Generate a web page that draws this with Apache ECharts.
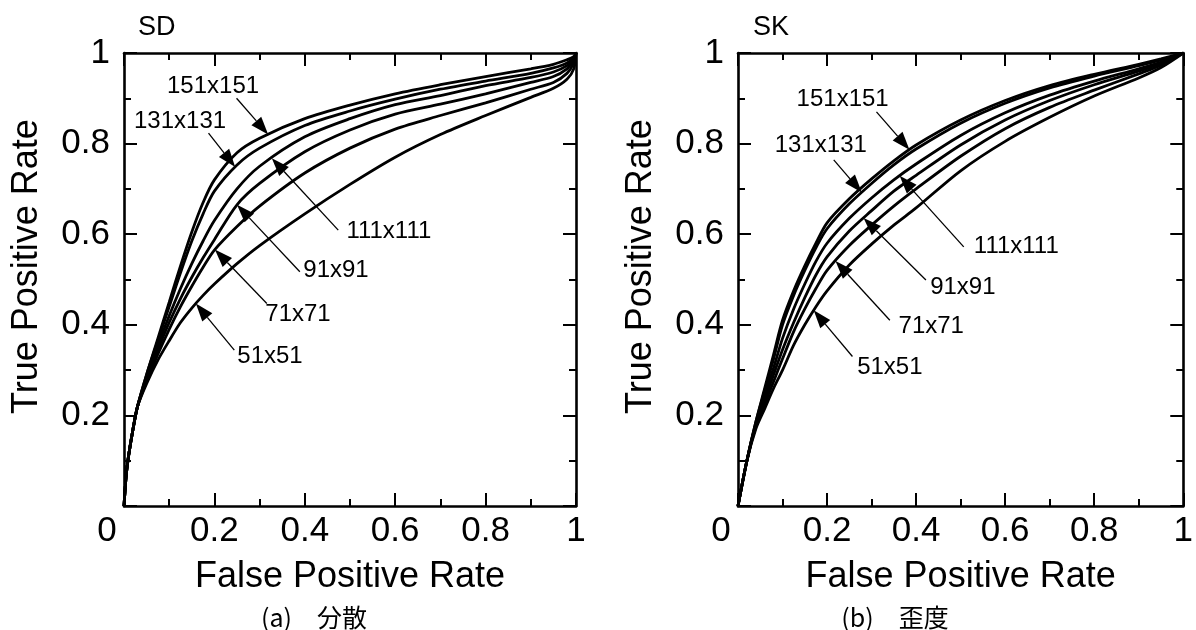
<!DOCTYPE html>
<html><head><meta charset="utf-8">
<script src="https://cdn.jsdelivr.net/npm/echarts@6/dist/echarts.min.js"></script>
<style>html,body{margin:0;padding:0;background:#fff}#c{width:1196px;height:630px}</style>
</head><body><div id="c"></div>
<script>
// ---- data ----
const sizeLabels = ['51x51', '71x71', '91x91', '111x111', '131x131', '151x151'];
const panelTitles = ['SD', 'SK'];
const captions = ['(a)\u3000分散', '(b)\u3000歪度'];

// (a) SD : false positive rate grid and true positive rates
const fprSD = [0, .005, .01, .02, .03, .05, .075, .1, .125, .15, .175, .2, .25, .3, .4, .5, .6, .7, .8, .9, .95, .98, .995, 1];
const sd51  = [0, .07, .11, .17, .22, .27, .322, .365, .405, .437, .465, .49, .535, .575, .645, .71, .77, .82, .862, .902, .922, .942, .965, 1];
const sd71  = [0, .07, .11, .17, .22, .275, .335, .39, .44, .485, .527, .565, .617, .662, .735, .79, .832, .862, .89, .92, .935, .955, .978, 1];
const sd91  = [0, .07, .11, .17, .22, .28, .345, .405, .458, .505, .548, .588, .665, .712, .782, .83, .865, .887, .91, .935, .948, .965, .984, 1];
const sd111 = [0, .07, .11, .17, .22, .285, .355, .42, .48, .535, .585, .63, .70, .75, .815, .855, .886, .906, .928, .946, .958, .972, .987, 1];
const sd131 = [0, .07, .11, .17, .22, .29, .365, .44, .515, .585, .645, .695, .753, .79, .84, .872, .898, .92, .938, .955, .967, .978, .99, 1];
const sd151 = [0, .07, .11, .17, .22, .29, .37, .45, .53, .605, .67, .72, .78, .812, .855, .885, .91, .93, .948, .965, .975, .985, .992, 1];

// (b) SK
const fprSK = [0, .02, .04, .06, .08, .1, .125, .15, .175, .2, .25, .3, .35, .4, .5, .6, .7, .8, .9, .95, 1];
const sk51  = [0, .10, .17, .215, .26, .30, .355, .40, .44, .475, .532, .578, .62, .658, .74, .805, .858, .905, .945, .968, 1];
const sk71  = [0, .10, .175, .225, .275, .325, .385, .435, .48, .52, .575, .62, .662, .70, .772, .833, .88, .918, .954, .973, 1];
const sk91  = [0, .10, .18, .235, .29, .345, .405, .46, .51, .55, .607, .652, .695, .73, .797, .852, .895, .93, .96, .977, 1];
const sk111 = [0, .10, .18, .245, .305, .37, .435, .49, .54, .58, .635, .68, .72, .755, .818, .868, .907, .938, .965, .98, 1];
const sk131 = [0, .10, .185, .255, .325, .40, .465, .52, .57, .612, .667, .712, .753, .788, .845, .889, .923, .949, .972, .985, 1];
const sk151 = [0, .10, .185, .26, .335, .41, .475, .53, .58, .625, .678, .722, .762, .797, .852, .895, .928, .953, .975, .987, 1];

// annotation layout in data units: [labelX, labelY, arrowStartX, arrowStartY, arrowTipFPR]
const sdNotes = [[.323,.331,.244,.344,.159],[.385,.424,.316,.447,.201],[.469,.521,.389,.517,.25],
                 [.586,.607,.474,.609,.327],[.124,.850,.187,.823,.246],[.197,.927,.249,.900,.319]];
const skNotes = [[.341,.307,.257,.33,.17],[.434,.397,.341,.41,.219],[.505,.482,.422,.499,.282],
                 [.625,.574,.507,.572,.363],[.186,.797,.215,.764,.278],[.235,.898,.311,.870,.385]];

// ---- chart ----
const FONT = '"Liberation Sans", Arial, sans-serif';
const CJK = '"Noto Sans CJK JP", sans-serif';
function zip(xs, ys) { return xs.map((x, i) => [x, ys[i]]); }
function interp(xs, ys, x) {
  for (let i = 1; i < xs.length; i++) if (x <= xs[i]) {
    const t = (x - xs[i-1]) / (xs[i] - xs[i-1]); return ys[i-1] + t * (ys[i] - ys[i-1]);
  }
  return ys[ys.length - 1];
}
const panels = [
  { fpr: fprSD, curves: [sd51, sd71, sd91, sd111, sd131, sd151], notes: sdNotes },
  { fpr: fprSK, curves: [sk51, sk71, sk91, sk111, sk131, sk151], notes: skNotes }
];
const grids = [{left:124, top:53, width:452, height:453}, {left:738, top:53, width:451, height:453}];

const axisLineStyle = {color:'#000', width:2.6};
function mkAxis(kind, gi, position, withLabels) {
  const isX = kind === 'x';
  const a = {
    type:'value', gridIndex:gi, position:position, min:0, max:1, interval:0.2,
    axisLine:{show:true, onZero:false, lineStyle:axisLineStyle},
    axisTick:{show:true, inside:true, length:13, lineStyle:{color:'#000', width:2}},
    minorTick:{show:true, splitNumber:2, length:7, lineStyle:{color:'#000', width:2}},
    splitLine:{show:false}, minorSplitLine:{show:false},
    axisLabel:{show:withLabels, color:'#000', fontSize:35, fontFamily:FONT, margin: isX ? 8 : 14,
      showMinLabel:true, showMaxLabel:true,
      formatter: isX ? (v => v === 0 ? '{z|0}' : String(+v.toFixed(1)))
                     : (v => v === 0 ? '' : String(+v.toFixed(1))),
      rich: {z:{fontSize:35, fontFamily:FONT, color:'#000', padding:[0, 34, 0, 0]}}
    }
  };
  if (withLabels) {
    a.name = isX ? 'False Positive Rate' : 'True Positive Rate';
    a.nameLocation = 'middle';
    a.nameGap = isX ? 53 : 79;
    a.nameTextStyle = {color:'#000', fontSize:36, fontFamily:FONT, padding: isX ? 0 : [0, 0, 0, 26]};
  }
  return a;
}
const xAxis = [], yAxis = [], series = [];
grids.forEach((g, gi) => {
  xAxis.push(mkAxis('x', gi, 'bottom', true), mkAxis('x', gi, 'top', false));
  yAxis.push(mkAxis('y', gi, 'left', true), mkAxis('y', gi, 'right', false));
});
panels.forEach((p, gi) => {
  p.curves.forEach((ys, k) => {
    series.push({
      type:'line', name: sizeLabels[k] + '-' + gi, xAxisIndex: gi*2, yAxisIndex: gi*2,
      data: zip(p.fpr, ys), showSymbol:false, smooth:0.3, clip:true,
      lineStyle:{color:'#000', width:2.8}, z:3
    });
  });
  const noteData = p.notes.map((n, k) => [n[0], n[1], n[2], n[3], n[4], interp(p.fpr, p.curves[k], n[4])]);
  series.push({
    type:'custom', xAxisIndex: gi*2, yAxisIndex: gi*2, z:5,
    encode:{x:[0,2,4], y:[1,3,5]},
    data: noteData,
    renderItem: function (params, api) {
      const t = api.coord([api.value(0), api.value(1)]);
      const s = api.coord([api.value(2), api.value(3)]);
      const q = api.coord([api.value(4), api.value(5)]);
      const dx = q[0]-s[0], dy = q[1]-s[1], len = Math.hypot(dx, dy), ux = dx/len, uy = dy/len;
      const L = 18, W = 6.5, bx = q[0]-ux*L, by = q[1]-uy*L;
      return {type:'group', children:[
        {type:'line', shape:{x1:s[0], y1:s[1], x2:bx, y2:by}, style:{stroke:'#000', lineWidth:1.3}},
        {type:'polygon', shape:{points:[[q[0],q[1]],[bx-uy*W, by+ux*W],[bx+uy*W, by-ux*W]]}, style:{fill:'#000'}},
        {type:'text', x:t[0], y:t[1], style:{text:sizeLabels[params.dataIndex], fontSize:24, fontFamily:FONT,
          fill:'#000', align:'center', verticalAlign:'middle'}}
      ]};
    }
  });
});

const chart = echarts.init(document.getElementById('c'), null, {renderer:'canvas'});
chart.setOption({
  animation:false, backgroundColor:'#fff',
  grid: grids, xAxis: xAxis, yAxis: yAxis, series: series,
  graphic: [
    {type:'text', left:138, top:14, style:{text:panelTitles[0], fontSize:27, fontFamily:FONT, fill:'#000'}},
    {type:'text', left:753, top:14, style:{text:panelTitles[1], fontSize:27, fontFamily:FONT, fill:'#000'}},
    {type:'text', x:314, y:617, style:{text:captions[0], fontSize:25, fontFamily:CJK, fill:'#000', align:'center', verticalAlign:'middle'}},
    {type:'text', x:895, y:617, style:{text:captions[1], fontSize:25, fontFamily:CJK, fill:'#000', align:'center', verticalAlign:'middle'}}
  ]
});
</script></body></html>
